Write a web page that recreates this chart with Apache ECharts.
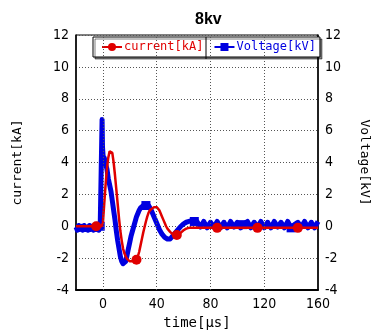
<!DOCTYPE html>
<html>
<head>
<meta charset="utf-8">
<script src="https://cdn.jsdelivr.net/npm/echarts@6/dist/echarts.min.js"></script>
<style>
  html, body { margin: 0; padding: 0; background: #fff; }
  #chart { width: 379px; height: 335px; }
</style>
</head>
<body>
<div id="chart"></div>
<script>
// current trace (red), time in us, value in kA
const currentT = [-20, -15, -10, -5, -1, 0, 1, 2, 3, 4, 5, 6, 7, 8, 9, 10, 11, 12, 13, 14, 15, 16, 17, 18, 19, 20, 22, 24, 25, 26, 27, 28, 29, 30, 31, 32, 33, 34, 35, 36, 38, 40, 41, 42, 43, 44, 45, 46, 47, 48, 50, 52, 54, 55, 56, 58, 60, 62, 64, 66, 70, 75, 80, 85, 90, 100, 110, 115, 120, 130, 140, 145, 150, 160];
const currentV = [0.0, 0.0, 0.0, 0.0, 0.0, 0.2, 1.4, 2.6, 3.6, 4.3, 4.7, 4.8, 4.6, 4.0, 3.2, 2.3, 1.4, 0.5, -0.3, -0.9, -1.4, -1.7, -1.9, -2.05, -2.15, -2.2, -2.2, -2.2, -2.1, -1.9, -1.6, -1.2, -0.8, -0.4, -0.05, 0.3, 0.6, 0.85, 1.0, 1.1, 1.2, 1.2, 1.15, 1.0, 0.8, 0.6, 0.4, 0.2, 0.0, -0.15, -0.35, -0.5, -0.55, -0.55, -0.5, -0.4, -0.25, -0.15, -0.1, -0.1, -0.1, -0.1, -0.1, -0.1, -0.1, -0.1, -0.1, -0.1, -0.1, -0.1, -0.1, -0.1, -0.1, -0.1];
const currentMarks = [-5, 25, 55, 85, 115, 145];

// voltage trace (blue), time in us, value in kV (noisy record)
const voltageT = [-20, -19, -18, -17, -16, -15, -14, -13, -12, -11, -10, -9, -8, -7, -6, -5, -4, -3, -2, -1, -0.6, -0.3, 0, 0.5, 1, 2, 3, 4, 5, 6, 7, 8, 9, 10, 11, 12, 13, 14, 15, 16, 17, 18, 19, 20, 21, 22, 23, 24, 25, 26, 27, 28, 29, 30, 32, 34, 35, 36, 37, 38, 40, 42, 44, 46, 48, 50, 52, 54, 56, 58, 60, 62, 64, 66, 68, 70, 72.5, 75, 77.5, 80, 82.5, 85, 87.5, 90, 92.5, 95, 97.5, 100, 102.5, 104, 107.5, 110, 112.5, 115, 117.5, 120, 122.5, 125, 127.5, 130, 132.5, 135, 137.5, 140, 142.5, 145, 147.5, 150, 152.5, 155, 157.5, 160];
const voltageV = [-0.05, -0.25, 0.05, -0.2, 0.0, -0.25, 0.05, -0.2, -0.05, -0.25, 0.05, -0.2, 0.0, -0.25, 0.05, -0.2, -0.05, -0.25, 0.0, -0.1, 6.7, 5.0, 4.6, 4.0, 4.3, 3.9, 3.6, 3.0, 2.6, 2.2, 1.6, 1.0, 0.4, -0.3, -0.9, -1.4, -1.9, -2.2, -2.35, -2.4, -2.2, -1.8, -1.4, -1.0, -0.6, -0.3, 0.0, 0.3, 0.6, 0.8, 1.0, 1.15, 1.25, 1.3, 1.3, 1.3, 1.2, 1.0, 0.8, 0.6, 0.2, -0.2, -0.5, -0.7, -0.8, -0.8, -0.6, -0.4, -0.2, 0.0, 0.15, 0.25, 0.3, 0.35, 0.3, 0.3, -0.05, 0.3, -0.1, 0.25, -0.05, 0.3, -0.1, 0.25, -0.1, 0.3, -0.05, 0.25, -0.1, 0.1, 0.3, -0.1, 0.25, -0.05, 0.3, -0.1, 0.25, -0.1, 0.3, -0.05, 0.25, -0.1, 0.3, -0.1, 0.1, 0.25, -0.05, 0.3, -0.1, 0.25, -0.1, 0.3, -0.05, 0.2];
const voltageMarks = [-2, 32, 68, 104, 140];

const xTicks = [0, 40, 80, 120, 160];

const font = "'DejaVu Sans Condensed', 'DejaVu Sans', sans-serif";
const mono = "'DejaVu Sans Mono', monospace";

const chart = echarts.init(document.getElementById("chart"));

const valueAxis = (name, gap) => ({
  type: "value",
  min: -4,
  max: 12,
  interval: 2,
  name,
  nameLocation: "middle",
  nameGap: gap,
  nameTextStyle: { fontFamily: mono, fontSize: 13, color: "#000" },
  axisLine: { show: true, onZero: false, lineStyle: { color: "#000", width: 1.5 } },
  axisTick: { show: false },
  axisLabel: { color: "#000", fontFamily: font, fontSize: 14, margin: 7 },
});

chart.setOption({
  animation: false,
  title: {
    text: "8kv",
    left: 190,
    top: 7,
    textStyle: { fontFamily: "Liberation Sans, Arial, sans-serif", fontSize: 16, fontWeight: "bold", color: "#000" },
  },
  legend: {
    left: 93,
    top: 37,
    padding: [4, 4, 4, 8],
    itemGap: 10,
    itemWidth: 20,
    itemHeight: 10,
    backgroundColor: "#fff",
    borderColor: "#000",
    borderWidth: 1,
    shadowColor: "rgba(0,0,0,0.5)",
    shadowOffsetX: 2,
    shadowOffsetY: 2,
    textStyle: { fontFamily: mono, fontSize: 12, padding: [0, 0, 0, -3] },
    data: [
      { name: "current[kA]", textStyle: { color: "#e00000" } },
      { name: "Voltage[kV]", textStyle: { color: "#0000e0" } },
    ],
  },
  grid: { left: 76, right: 60, top: 35, bottom: 42, show: true, borderColor: "#000", borderWidth: 1 },
  xAxis: {
    type: "value",
    min: -20,
    max: 160,
    name: "time[\u03bcs]",
    nameLocation: "middle",
    nameGap: 26,
    nameTextStyle: { fontFamily: mono, fontSize: 14, color: "#000" },
    axisLine: { onZero: false, lineStyle: { color: "#000", width: 2 } },
    axisTick: { show: false, customValues: xTicks },
    axisLabel: { customValues: xTicks, color: "#000", fontFamily: font, fontSize: 14, margin: 7 },
    splitLine: { show: false },
  },
  yAxis: [
    Object.assign(valueAxis("current[kA]", 52), {
      splitLine: { show: true, lineStyle: { color: "#555", type: [1, 2], width: 1 } },
    }),
    Object.assign(valueAxis("Voltage[kV]", 40), {
      position: "right",
      nameRotate: -90,
      splitLine: { show: false },
    }),
  ],
  graphic: [
    { type: "line", shape: { x1: 206, y1: 37, x2: 206, y2: 59 }, style: { stroke: "#000", lineWidth: 1 }, z: 100 },
  ],
  series: [
    {
      name: "Voltage[kV]",
      type: "line",
      yAxisIndex: 1,
      symbol: "rect",
      symbolSize: 9,
      color: "#0000e0",
      lineStyle: { width: 5, color: "#0000e0", join: "round" },
      data: voltageT.map((t, i) => ({
        value: [t, voltageV[i]],
        symbol: voltageMarks.includes(t) ? "rect" : "none",
      })),
      markLine: {
        silent: true,
        symbol: "none",
        label: { show: false },
        lineStyle: { color: "#555", type: [1, 2], width: 1 },
        data: xTicks.slice(0, 4).map((v) => ({ xAxis: v })),
      },
      z: 2,
    },
    {
      name: "current[kA]",
      type: "line",
      symbol: "circle",
      symbolSize: 10,
      color: "#e00000",
      lineStyle: { width: 2.5, color: "#e00000" },
      data: currentT.map((t, i) => ({
        value: [t, currentV[i]],
        symbol: currentMarks.includes(t) ? "circle" : "none",
      })),
      z: 3,
    },
  ],
});
</script>
</body>
</html>
